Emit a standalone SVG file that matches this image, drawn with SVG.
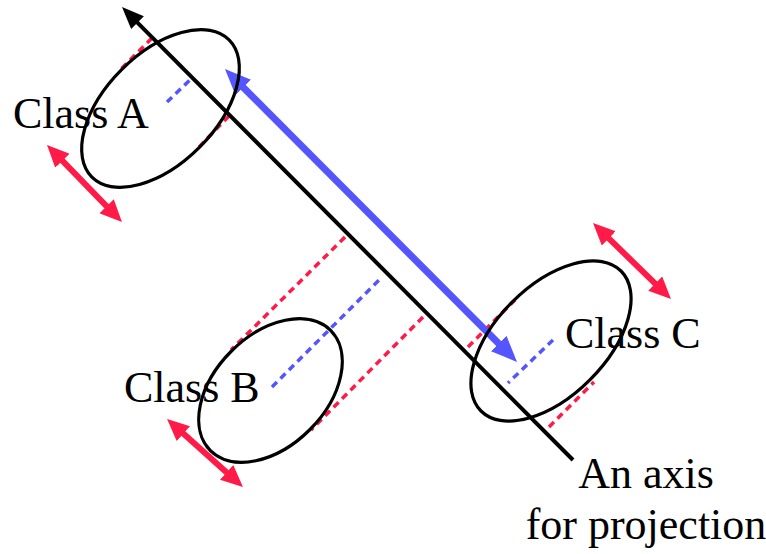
<svg xmlns="http://www.w3.org/2000/svg" width="766" height="554" viewBox="0 0 766 554">
<style>
text{font-family:'Liberation Serif','Times New Roman',Times,serif;font-size:44px;fill:#000}
.ell{fill:none;stroke:#000;stroke-width:3.2}
.rd{stroke:#FF1A47;stroke-width:3.5;stroke-dasharray:7 5;fill:none}
.bd{stroke:#5555FF;stroke-width:3.5;stroke-dasharray:7 5;fill:none}
.axis{stroke:#000;stroke-width:4;fill:none}
.blue{stroke:#5555FF;stroke-width:7;fill:none}
.red{stroke:#FF1A47;stroke-width:6;fill:none}
</style>
<defs>
<marker id="mk" markerUnits="userSpaceOnUse" viewBox="0 0 22 18" markerWidth="22" markerHeight="18" refX="4" refY="9" orient="auto-start-reverse"><path d="M0,0 L22,9 L0,18 z" fill="#000"/></marker>
<marker id="mb" markerUnits="userSpaceOnUse" viewBox="0 0 26 22" markerWidth="26" markerHeight="22" refX="6" refY="11" orient="auto-start-reverse"><path d="M0,0 L26,11 L0,22 z" fill="#5555FF"/></marker>
<marker id="mr" markerUnits="userSpaceOnUse" viewBox="0 0 22 20" markerWidth="22" markerHeight="20" refX="5" refY="10" orient="auto-start-reverse"><path d="M0,0 L22,10 L0,20 z" fill="#FF1A47"/></marker>
</defs>
<g id="connectors">
<line class="rd" x1="152" y1="38" x2="121" y2="69"/>
<line class="rd" x1="229" y1="116" x2="199" y2="147"/>
<line class="bd" x1="167" y1="102" x2="192" y2="78"/>
<line class="rd" x1="345" y1="237" x2="231" y2="350"/>
<line class="rd" x1="423" y1="317" x2="311" y2="430"/>
<line class="bd" x1="272" y1="387" x2="382" y2="277"/>
<line class="rd" x1="468" y1="347" x2="515" y2="300"/>
<line class="rd" x1="549" y1="427" x2="594" y2="382"/>
<line class="bd" x1="553" y1="340" x2="508" y2="383"/>
<line class="axis" x1="134.7" y1="19.8" x2="573" y2="460" marker-start="url(#mk)"/>
<line class="blue" x1="239.1" y1="83.2" x2="502.9" y2="347.8" marker-start="url(#mb)" marker-end="url(#mb)"/>
<line class="red" x1="58.9" y1="157.2" x2="110.1" y2="209.8" marker-start="url(#mr)" marker-end="url(#mr)"/>
<line class="red" x1="179.7" y1="430.3" x2="230.3" y2="475.7" marker-start="url(#mr)" marker-end="url(#mr)"/>
<line class="red" x1="605.2" y1="234.9" x2="658.8" y2="287.1" marker-start="url(#mr)" marker-end="url(#mr)"/>
</g>
<g id="classA">
<ellipse class="ell" cx="160.5" cy="108.5" rx="97" ry="55" transform="rotate(-45 160.5 108.5)"/>
<text x="13" y="128" font-family="Liberation Serif, serif">Class A</text>
</g>
<g id="classB">
<ellipse class="ell" cx="270.5" cy="390.5" rx="85" ry="55.5" transform="rotate(-45 270.5 390.5)"/>
<text x="124" y="402" font-family="Liberation Serif, serif">Class B</text>
</g>
<g id="classC">
<ellipse class="ell" cx="551" cy="341" rx="99" ry="55" transform="rotate(-45 551 341)"/>
<text x="565" y="348" font-family="Liberation Serif, serif">Class C</text>
</g>
<g id="axisLabel">
<text x="646" y="488" text-anchor="middle" font-family="Liberation Serif, serif">An axis</text>
<text x="646" y="539" text-anchor="middle" font-family="Liberation Serif, serif">for projection</text>
</g>
</svg>
